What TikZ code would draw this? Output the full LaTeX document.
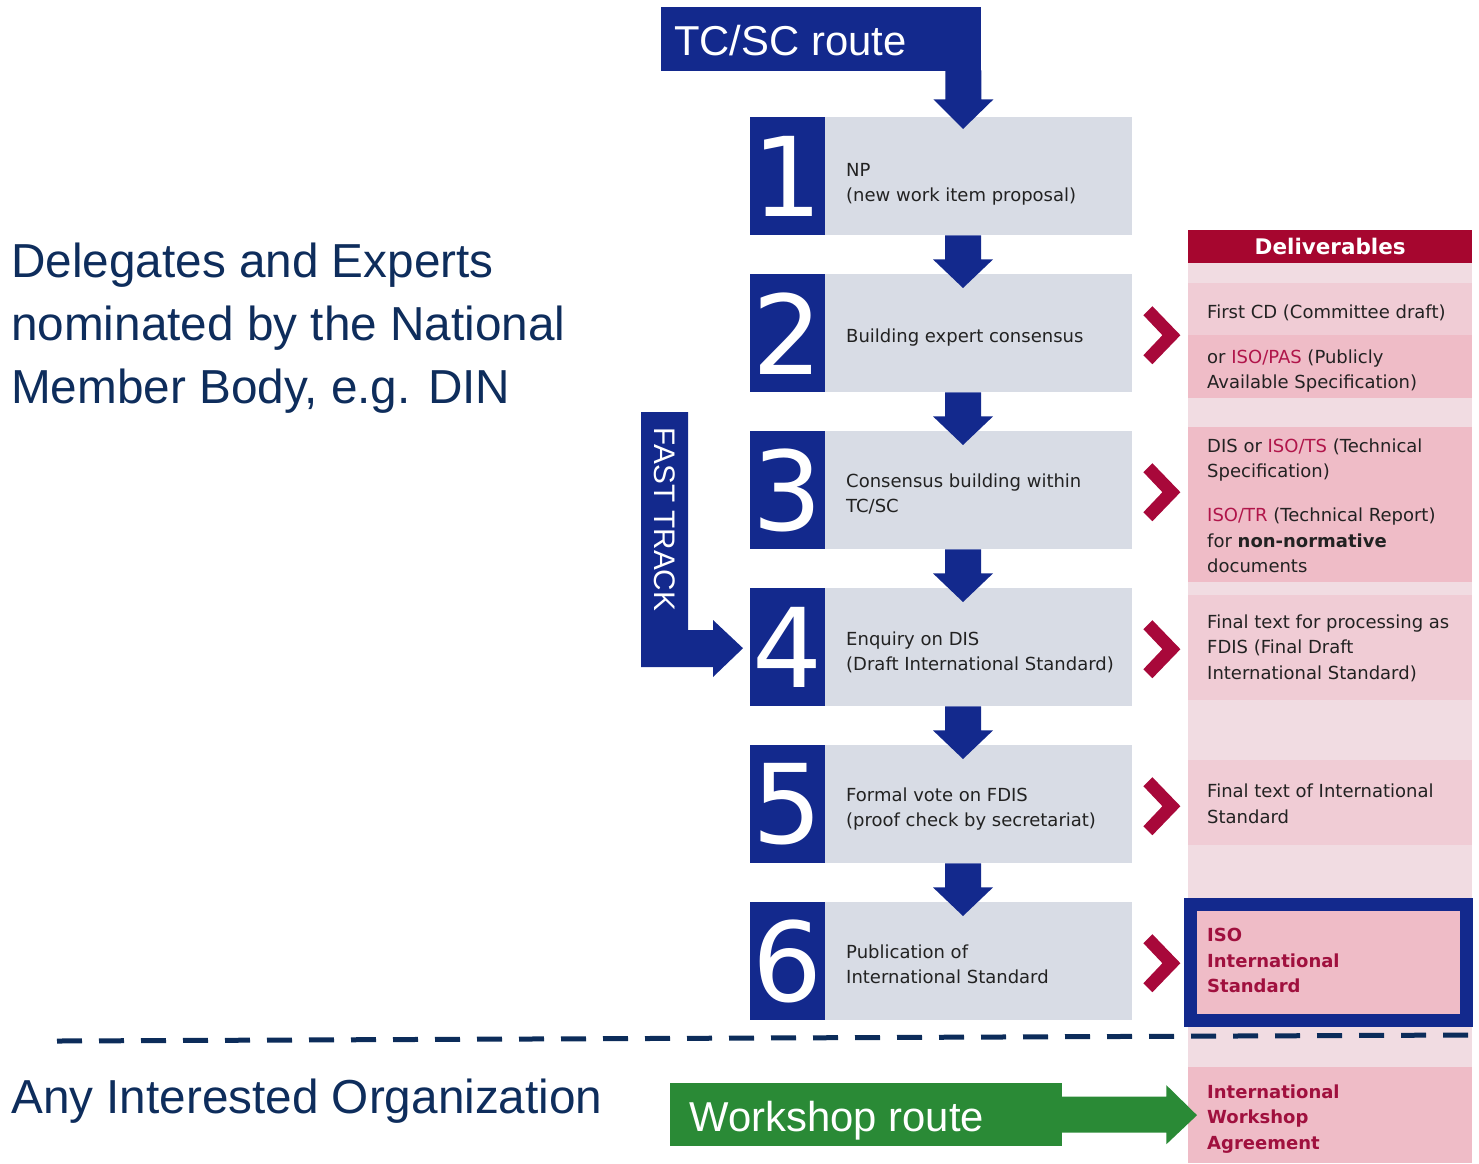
\documentclass[tikz,border=0pt]{standalone}
\usepackage{fontspec}
\setmainfont{DejaVu Sans}
\newfontfamily\arialfont{Liberation Sans}
\usetikzlibrary{calc}
\definecolor{isoblue}{HTML}{13298D}
\definecolor{stepgrey}{HTML}{D8DCE5}
\definecolor{txtdark}{HTML}{222222}
\definecolor{headred}{HTML}{A6062F}
\definecolor{chevred}{HTML}{A8083A}
\definecolor{pinkbg}{HTML}{F1DCE2}
\definecolor{pinkmid}{HTML}{F0CCD5}
\definecolor{pinkdark}{HTML}{EFBCC7}
\definecolor{isored}{HTML}{B0154A}
\definecolor{deepred}{HTML}{A0103E}
\definecolor{navytxt}{HTML}{0E2D5C}
\definecolor{dashnavy}{HTML}{0C2C5A}
\definecolor{wsgreen}{HTML}{2A8A36}
\newcommand{\flowdown}[2]{%
  \fill[isoblue] ($(#1.south west)+(120,0)$) -- ++(36,0) -- ++(0,24) -- ++(12,0)
    -- ($(#2.north west)+(138,14)$) -- ($(#1.south west)+(108,24)$) -- ++(12,0) -- cycle;}
\newcommand{\delchev}[1]{%
  \fill[chevred] ($(#1.east)+(11,-18)$) -- ++(9,-9) -- ++(28,29) -- ++(-28,29) -- ++(-9,-9) -- ++(19,-20) -- cycle;}
\newcommand{\smallstrut}{\rule{0pt}{17.5pt}}
\newcommand{\bigstrut}{\rule{0pt}{44.2pt}}
\begin{document}
\begin{tikzpicture}[x=1pt,y=-1pt,
  numbox/.style={fill=isoblue, text=white, minimum width=75pt, minimum height=118pt, inner sep=0pt, anchor=north west, font=\fontsize{110}{110}\selectfont},
  stepbox/.style={fill=stepgrey, minimum width=307pt, minimum height=118pt, inner sep=0pt, anchor=north west},
  steptext/.style={anchor=north west, align=left, inner sep=0pt, text=txtdark, font=\fontsize{18}{25}\selectfont},
  delrow/.style={minimum width=284pt, inner sep=0pt, anchor=north west},
  deltext/.style={anchor=north west, align=left, inner sep=0pt, text=txtdark, font=\fontsize{18}{25.3}\selectfont},
  bigtext/.style={anchor=north west, align=left, inner sep=0pt, text=navytxt, font=\arialfont\fontsize{47.7}{63.2}\selectfont},
  routetext/.style={anchor=base west, inner sep=0pt, text=white, font=\arialfont\fontsize{41.8}{50}\selectfont},
]
\useasboundingbox (0,0) rectangle (1479,1163);

% Deliverables column
\fill[pinkbg] (1188,263) rectangle (1472,1163);
\node[fill=headred, text=white, minimum width=284pt, minimum height=33pt, inner sep=0pt, anchor=north west, font=\bfseries\fontsize{21.5}{22}\selectfont] (dh) at (1188,230) {Deliverables};
\node[delrow, fill=pinkmid, minimum height=52pt] (r1) at (1188,283) {};
\node[delrow, fill=pinkdark, minimum height=63pt] (r2) at (1188,335) {};
\node[delrow, fill=pinkdark, minimum height=66pt] (r3) at (1188,427) {};
\node[delrow, fill=pinkdark, minimum height=89pt] (r4) at (1188,493) {};
\node[delrow, fill=pinkmid, minimum height=105pt] (r5) at (1188,595) {};
\node[delrow, fill=pinkmid, minimum height=85pt] (r6) at (1188,760) {};
\node[draw=isoblue, line width=13pt, fill=pinkdark, minimum width=276pt, minimum height=116pt, inner sep=0pt, anchor=north west] (r7) at (1184,898) {};
\node[delrow, fill=pinkdark, minimum height=96pt] (r8) at (1188,1067) {};

\node[deltext] (d1) at ($(r1.north west)+(19,17.5)$) {\smallstrut First CD (Committee draft)};
\node[deltext] (d2) at ($(r2.north west)+(19,10.5)$) {\smallstrut or \textcolor{isored}{ISO/PAS} (Publicly\\Available Specification)};
\node[deltext] (d3) at ($(r3.north west)+(19,7.5)$) {\smallstrut DIS or \textcolor{isored}{ISO/TS} (Technical\\Specification)};
\node[deltext] (d4) at ($(r4.north west)+(19,11.2)$) {\smallstrut\textcolor{isored}{ISO/TR} (Technical Report)\\for \textbf{non-normative}\\documents};
\node[deltext] (d5) at ($(r5.north west)+(19,15.8)$) {\smallstrut Final text for processing as\\FDIS (Final Draft\\International Standard)};
\node[deltext] (d6) at ($(r6.north west)+(19,20.2)$) {\smallstrut Final text of International\\Standard};
\node[deltext, text=deepred, font=\bfseries\fontsize{18}{25.3}\selectfont] (d7) at ($(r7.north west)+(23,26.2)$) {\smallstrut ISO\\International\\Standard};
\node[deltext, text=deepred, font=\bfseries\fontsize{18}{25.3}\selectfont] (d8) at ($(r8.north west)+(19,13.8)$) {\smallstrut International\\Workshop\\Agreement};

% Steps
\node[numbox] (n1) at (750,117) {1};
\node[stepbox] (s1) at (825,117) {};
\node[numbox] (n2) at (750,274) {2};
\node[stepbox] (s2) at (825,274) {};
\node[numbox] (n3) at (750,431) {3};
\node[stepbox] (s3) at (825,431) {};
\node[numbox] (n4) at (750,588) {4};
\node[stepbox] (s4) at (825,588) {};
\node[numbox] (n5) at (750,745) {5};
\node[stepbox] (s5) at (825,745) {};
\node[numbox] (n6) at (750,902) {6};
\node[stepbox] (s6) at (825,902) {};

\node[steptext] (t1) at ($(s1.north west)+(21,41.5)$) {\smallstrut NP\\(new work item proposal)};
\node[steptext] (t2) at ($(s2.north west)+(21,50.5)$) {\smallstrut Building expert consensus};
\node[steptext] (t3) at ($(s3.north west)+(21,38.8)$) {\smallstrut Consensus building within\\TC/SC};
\node[steptext] (t4) at ($(s4.north west)+(21,39.5)$) {\smallstrut Enquiry on DIS\\(Draft International Standard)};
\node[steptext] (t5) at ($(s5.north west)+(21,38.5)$) {\smallstrut Formal vote on FDIS\\(proof check by secretariat)};
\node[steptext] (t6) at ($(s6.north west)+(21,38.5)$) {\smallstrut Publication of\\International Standard};

% TC/SC route banner and arrow
\node[fill=isoblue, minimum width=320pt, minimum height=64pt, inner sep=0pt, anchor=north west] (tcsc) at (661,7) {};
\node[routetext] (tcsctxt) at (674,55) {TC/SC route};
\fill[isoblue] ($(tcsc.south east)+(-36,-1)$) -- ($(tcsc.south east)+(0,-1)$) -- ++(0,29) -- ++(12,0)
  -- ($(s1.north west)+(138,12)$) -- ($(tcsc.south east)+(-48,28)$) -- ++(12,0) -- cycle;

% flow arrows
\flowdown{s1}{s2}
\flowdown{s2}{s3}
\flowdown{s3}{s4}
\flowdown{s4}{s5}
\flowdown{s5}{s6}

% chevrons
\delchev{s2}
\delchev{s3}
\delchev{s4}
\delchev{s5}
\delchev{s6}

% fast track
\fill[isoblue] (641,412) -- (688,412) -- (688,630) -- (713,630) -- (713,620) -- ($(n4.west)+(-7,1)$)
  -- (713,677) -- (713,667) -- (641,667) -- cycle;
\node[rotate=-90, text=white, inner sep=0pt, font=\arialfont\fontsize{29.7}{30}\selectfont] (ft) at (664.5,519.5) {FAST TRACK};

% workshop route
\node[fill=wsgreen, minimum width=392pt, minimum height=63pt, inner sep=0pt, anchor=north west] (ws) at (670,1083) {};
\node[routetext] (wstxt) at (689.5,1131) {Workshop route};
\fill[wsgreen] ($(ws.east)+(-1,-18)$) -- ($(ws.east)+(104,-18)$) -- ($(ws.east)+(104,-29.5)$)
  -- ($(r8.west)+(9,0)$) -- ($(ws.east)+(104,29.5)$) -- ($(ws.east)+(104,18)$) -- ($(ws.east)+(-1,18)$) -- cycle;

% dashed separator
\draw[dashnavy, line width=5pt, dash pattern=on 25pt off 17pt] (57,1041) -- (1468,1035);

% left texts
\node[bigtext] (dele) at (11,232.8) {\bigstrut Delegates and Experts\\nominated by the National\\Member Body, e.g. DIN};
\node[anchor=base west, inner sep=0pt, text=navytxt, font=\arialfont\fontsize{47.7}{60}\selectfont] (anyorg) at (11,1113) {Any Interested Organization};
\end{tikzpicture}
\end{document}
